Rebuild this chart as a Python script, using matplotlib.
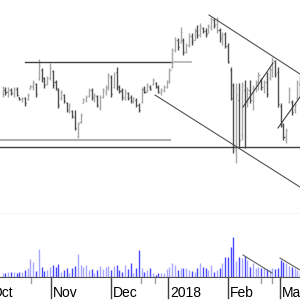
import matplotlib
matplotlib.use('Agg')
import matplotlib.pyplot as plt
from matplotlib.collections import LineCollection
from matplotlib.transforms import blended_transform_factory

high = [41.4, 41.33, 41.27, 41.23, 41.27, 41.27, 40.33, 40.33, 40.33, 40.67,
        41.5, 42.0, 41.73, 44.07, 43.17, 42.33, 42.4, 43.73, 43.0, 42.0,
        41.17, 41.0, 40.6, 39.77, 39.67, 39.0, 39.0, 37.83, 38.67, 40.17,
        40.5, 41.17, 41.17, 40.67, 40.5, 40.5, 41.17, 41.5, 42.73, 42.5,
        42.83, 43.27, 41.5, 41.17, 41.07, 40.83, 40.5, 40.33, 40.17, 39.67,
        41.33, 41.4, 41.67, 41.5, 42.17, 41.83, 41.5, 41.17, 41.5, 42.0,
        43.17, 45.17, 46.33, 46.17, 47.33, 46.17, 45.67, 46.67, 46.67, 47.17,
        47.5, 47.67, 47.33, 47.17, 47.6, 48.33, 48.17, 48.27, 47.17, 46.83,
        46.83, 45.67, 43.33, 41.67, 41.67, 41.67, 41.83, 42.0, 41.33, 42.0,
        41.5, 42.0, 42.83, 42.17, 42.0, 42.83, 43.33, 44.33, 44.0, 43.33,
        39.67, 37.67, 37.17, 41.33, 40.0, 39.83, 42.0, 42.5]
low = [40.33, 40.5, 40.33, 40.5, 40.33, 40.4, 40.0, 39.83, 39.4, 40.0,
       41.07, 41.0, 40.33, 42.0, 41.83, 41.17, 41.5, 42.0, 41.17, 41.0,
       39.17, 40.0, 39.67, 38.83, 38.67, 38.17, 37.0, 36.17, 37.67, 39.67,
       39.83, 40.33, 40.0, 39.83, 39.33, 39.0, 40.17, 40.5, 41.0, 40.33,
       41.17, 41.0, 40.67, 40.0, 40.0, 40.0, 39.67, 39.67, 39.33, 38.83,
       39.67, 40.67, 40.83, 41.0, 41.5, 41.17, 40.67, 40.5, 40.83, 41.17,
       41.67, 43.17, 44.83, 45.0, 45.67, 44.5, 44.67, 45.33, 45.5, 46.0,
       46.17, 46.33, 46.67, 46.33, 46.67, 47.0, 47.17, 46.67, 45.83, 45.5,
       45.17, 43.67, 40.0, 34.67, 33.67, 35.17, 36.0, 35.17, 39.33, 39.67,
       39.0, 40.83, 41.0, 41.0, 40.67, 40.33, 42.0, 42.33, 42.33, 39.33,
       37.33, 36.0, 35.67, 39.67, 38.5, 38.67, 40.0, 40.33]
open_ = [40.6, 41.0, 40.8, 41.0, 40.7, 41.1, 40.3, 40.1, 40.2, 40.1,
         41.1, 41.3, 41.6, 42.1, 43.0, 42.2, 41.6, 42.2, 42.9, 41.8,
         41.0, 40.2, 40.5, 39.7, 39.0, 38.9, 38.3, 36.4, 37.8, 39.7,
         40.0, 40.4, 41.0, 40.2, 40.4, 39.3, 40.3, 40.8, 41.2, 42.3,
         41.3, 42.8, 41.3, 41.0, 40.2, 40.7, 40.3, 39.8, 40.0, 39.5,
         39.8, 41.1, 41.0, 41.3, 41.6, 41.7, 41.3, 40.8, 41.0, 41.3,
         41.8, 43.3, 45.0, 46.0, 45.8, 46.0, 44.8, 45.5, 46.4, 46.0,
         46.9, 46.5, 47.2, 46.9, 46.7, 47.3, 48.0, 47.6, 47.0, 46.2,
         46.6, 45.4, 43.0, 41.5, 35.0, 40.0, 36.5, 41.0, 40.0, 41.0,
         40.0, 41.2, 41.8, 42.0, 41.3, 41.8, 42.2, 43.0, 43.9, 42.8,
         39.4, 37.4, 36.0, 39.8, 39.8, 39.0, 40.2, 41.6]
close = [41.0, 40.8, 41.0, 40.7, 41.1, 40.5, 40.1, 40.2, 39.7, 40.5,
         41.4, 41.8, 40.6, 43.5, 42.2, 41.5, 42.2, 43.2, 41.5, 41.2,
         39.5, 40.8, 39.9, 39.0, 39.5, 38.4, 37.2, 37.6, 38.5, 40.1,
         40.3, 41.0, 40.3, 40.5, 39.5, 40.3, 41.0, 41.3, 42.5, 40.6,
         42.6, 41.3, 40.9, 40.3, 40.8, 40.2, 39.9, 40.2, 39.5, 39.0,
         41.0, 40.8, 41.5, 41.1, 42.0, 41.3, 40.8, 41.0, 41.3, 41.9,
         43.0, 45.0, 46.0, 45.3, 46.8, 44.8, 45.5, 46.4, 45.8, 47.0,
         46.5, 47.4, 46.9, 46.6, 47.4, 48.1, 47.5, 48.0, 46.2, 46.5,
         45.4, 43.8, 40.2, 35.5, 40.5, 36.0, 41.5, 39.8, 41.0, 40.0,
         41.2, 41.8, 42.5, 41.3, 41.8, 40.6, 43.1, 44.0, 42.6, 39.6,
         37.6, 36.3, 37.0, 41.0, 38.8, 39.6, 41.8, 41.0]
volume = [0.43, 0.43, 0.53, 0.47, 0.53, 0.43, 0.53, 0.53, 0.7, 0.87,
          1.77, 1.53, 0.63, 2.77, 1.03, 0.63, 0.7, 1.03, 1.2, 1.03,
          1.27, 0.53, 0.7, 0.87, 0.37, 0.87, 1.1, 2.3, 1.2, 1.03,
          1.2, 0.7, 0.77, 0.37, 0.7, 1.1, 0.77, 1.03, 1.1, 0.7,
          1.1, 1.2, 0.7, 0.53, 1.2, 0.77, 1.37, 0.43, 0.87, 2.7,
          0.87, 0.53, 0.7, 0.87, 0.37, 0.2, 0.37, 0.37, 0.37, 0.77,
          1.03, 1.37, 1.2, 0.7, 0.87, 0.93, 0.87, 0.7, 0.6, 0.53,
          0.87, 1.37, 1.03, 0.87, 0.7, 1.2, 0.53, 0.7, 0.87, 1.37,
          2.03, 2.03, 3.03, 3.97, 1.63, 1.97, 1.87, 2.1, 1.7, 1.03,
          1.37, 0.87, 1.03, 0.87, 0.87, 0.77, 0.7, 0.87, 0.77, 0.87,
          1.7, 1.53, 1.37, 1.1, 1.03, 0.87, 0.7, 0.53]
month_labels = ['Oct', 'Nov', 'Dec', '2018', 'Feb', 'Mar']
month_pos = [-4.5, 17.4, 39.0, 59.5, 81.1, 99.8]
minor_pos = [10.2, 49.8, 54.8, 92.9, 96.9]

H = 300
fig = plt.figure(figsize=(3, 3), dpi=100)
ax = fig.add_axes([0, 1 - 214 / H, 1, 214 / H])
axv = fig.add_axes([0, 1 - 277 / H, 1, 63 / H])

px = lambda x: (x - 2.7) / 2.78     # pixel -> bar index
P = lambda y: 50 - y / 10           # pixel -> price
V = lambda y: (277 - y) / 10        # pixel -> volume
xl = (px(0), px(300))
n = len(high)

UP, DOWN = '#a8a8a8', '#505050'
VUP, VDOWN = '#a8a8ff', '#4848ff'
segs, cols, vsegs, vcols = [], [], [], []
tk = 0.38
for i in range(n):
    up = close[i] >= open_[i]
    c = UP if up else DOWN
    segs += [[(i, low[i]), (i, high[i])],
             [(i - tk, open_[i]), (i, open_[i])],
             [(i, close[i]), (i + tk, close[i])]]
    cols += [c, c, c]
    vsegs.append([(i, 0), (i, volume[i])])
    vcols.append(VUP if up else VDOWN)
ax.add_collection(LineCollection(segs, colors=cols, linewidths=1, capstyle='butt'))
axv.add_collection(LineCollection(vsegs, colors=vcols, linewidths=1, capstyle='butt'))

ax.set_xlim(*xl)
ax.set_ylim(28.6, 50)
axv.set_xlim(*xl)
axv.set_ylim(0, 6.3)
for a in (ax, axv):
    for s in a.spines.values():
        s.set_visible(False)
    a.spines['bottom'].set_visible(True)
    a.spines['bottom'].set_color('#505050')
    a.set_xticks([]); a.set_yticks([])

# drawn lines
ax.plot([px(25), px(172)], [P(62), P(62)], color='#404040', lw=1)
ax.plot([px(172), px(191)], [P(62), P(62)], color='#b0b0b0', lw=1.2)
ax.plot([px(0), px(170)], [P(140), P(140)], color='#b0b0b0', lw=1.5)
ax.plot([px(0), px(300)], [P(147), P(147)], color='#404040', lw=1)
ax.plot([px(209), px(300)], [P(15), P(74)], color='#505050', lw=0.8)
ax.plot([px(155), px(300)], [P(95), P(187)], color='#505050', lw=0.8)
ax.plot([px(243), px(273)], [P(107), P(63)], color='#404040', lw=0.8)
ax.plot([px(278), px(300)], [P(128), P(97)], color='#404040', lw=0.8)
axv.plot([px(243), px(272)], [V(255), V(273)], color='#606060', lw=0.8)
axv.plot([px(280), px(300)], [V(258), V(270)], color='#606060', lw=0.8)

tr = blended_transform_factory(axv.transData, axv.transAxes)
for pos in minor_pos:
    axv.plot([pos, pos], [0, -6 / 63], transform=tr, color='#a0a0a0', lw=1, clip_on=False)
for lab, pos in zip(month_labels, month_pos):
    axv.plot([pos, pos], [0, -21 / 63], transform=tr, color='#404040', lw=1, clip_on=False)
    axv.text(pos + 0.6, -20 / 63, lab, transform=tr, ha='left', va='baseline',
             fontsize=10, family='Liberation Sans', color='black')

fig.savefig('out.png', dpi=100)
